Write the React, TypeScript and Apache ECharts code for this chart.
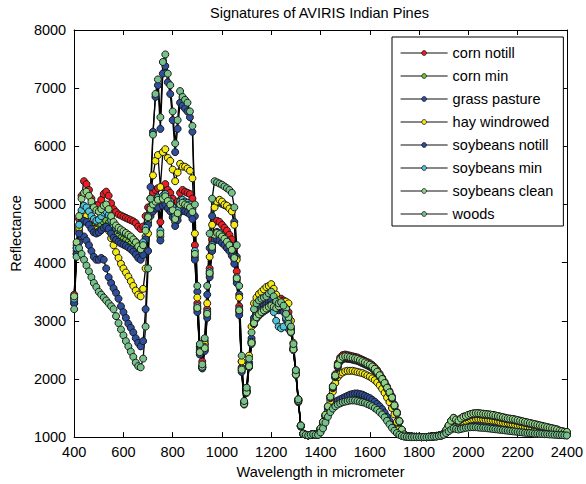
import React, { useEffect, useRef } from "react";
import * as echarts from "echarts";

const FONT = "'Liberation Sans', Arial, Helvetica, sans-serif";

// Wavelength sampling of the bands (nm)
const WL_START = 400;
const WL_STEP = 10;

const xTickValues = [400, 600, 800, 1000, 1200, 1400, 1600, 1800, 2000, 2200, 2400];
const yTickValues = [1000, 2000, 3000, 4000, 5000, 6000, 7000, 8000];

const classNames = [
  "corn notill",
  "corn min",
  "grass pasture",
  "hay windrowed",
  "soybeans notill",
  "soybeans min",
  "soybeans clean",
  "woods",
];

const markerColors = [
  "#ee1c24",
  "#6cc340",
  "#2f4f9f",
  "#f5ea14",
  "#2a4a9a",
  "#4fc3d9",
  "#8fd486",
  "#74c28a",
];

const cornNotill = [
  3450, 4300, 4750, 5150, 5400, 5350, 5250, 5100, 5000,
  4980, 5000, 5080, 5180, 5220, 5150, 5020, 4920, 4870, 4830,
  4810, 4790, 4770, 4750, 4730, 4710, 4680, 4620, 4580, 4620,
  4800, 4950, 5100, 5200, 5250, 5280, 4700, 5300, 5350, 5250,
  5200, 5100, 4950, 5050, 5200, 5250, 5220, 5200, 5180, 5100,
  4300, 3300, 2550, 2300, 2600, 3200, 3900, 4400, 4700, 4720,
  4700, 4650, 4600, 4550, 4480, 4400, 4250, 3850, 3250, 2200,
  1600, 1800, 2250, 2650, 3000, 3100, 3150, 3200, 3230, 3260,
  3300, 3320, 3300, 3280, 3330, 3380, 3350, 3300, 3150, 2880,
  2550, 2100, 1650, 1200, 1060, 1040, 1030, 1040, 1050, 1040,
  1060, 1150, 1260, 1380, 1530, 1700, 1880, 2080, 2270, 2370,
  2410, 2420, 2410, 2400, 2390, 2380, 2370, 2350, 2330, 2310,
  2290, 2270, 2240, 2200, 2150, 2090, 2020, 1950, 1870, 1790,
  1700, 1560, 1430, 1280, 1130, 1050, 1020, 1010, 1010, 1005,
  1005, 1005, 1000, 1000, 1000, 1005, 1010, 1015, 1020, 1025,
  1030, 1060, 1120, 1200, 1280, 1330, 1300, 1280, 1320, 1350,
  1360, 1380, 1395, 1405, 1410, 1410, 1405, 1400, 1395, 1390,
  1385, 1380, 1370, 1360, 1350, 1340, 1330, 1320, 1315, 1310,
  1300, 1290, 1280, 1270, 1260, 1250, 1240, 1230, 1220, 1210,
  1200, 1190, 1180, 1170, 1160, 1150, 1140, 1130, 1110, 1100,
  1090, 1085,
];

const cornMin = [
  3350, 4200, 4550, 4750, 4800, 4780, 4720, 4650, 4600,
  4580, 4600, 4650, 4700, 4720, 4680, 4600, 4520, 4480, 4450,
  4420, 4400, 4380, 4350, 4320, 4280, 4230, 4170, 4130, 4200,
  4450, 4700, 4850, 4950, 5000, 5020, 4450, 5050, 5080, 5000,
  4950, 4850, 4700, 4800, 4950, 4980, 4950, 4930, 4900, 4820,
  4100, 3200, 2450, 2200, 2500, 3100, 3800, 4250, 4450, 4480,
  4460, 4420, 4380, 4330, 4280, 4200, 4050, 3700, 3150, 2150,
  1580, 1780, 2220, 2620, 2970, 3070, 3120, 3160, 3190, 3220,
  3250, 3270, 3250, 3230, 3270, 3320, 3280, 3230, 3080, 2830,
  2520, 2080, 1630, 1190, 1055, 1040, 1030, 1040, 1050, 1040,
  1055, 1140, 1245, 1360, 1500, 1660, 1830, 2020, 2200, 2300,
  2340, 2350, 2345, 2340, 2330, 2320, 2310, 2290, 2270, 2250,
  2230, 2210, 2180, 2140, 2090, 2030, 1970, 1900, 1820, 1740,
  1650, 1520, 1400, 1260, 1120, 1045, 1020, 1010, 1010, 1005,
  1005, 1005, 1000, 1000, 1000, 1005, 1010, 1015, 1020, 1025,
  1030, 1058, 1110, 1185, 1260, 1310, 1285, 1265, 1300, 1330,
  1340, 1360, 1375, 1385, 1390, 1390, 1385, 1380, 1375, 1370,
  1365, 1360, 1350, 1340, 1330, 1320, 1310, 1300, 1295, 1290,
  1280, 1270, 1260, 1250, 1240, 1230, 1220, 1210, 1200, 1190,
  1180, 1170, 1160, 1150, 1140, 1130, 1120, 1110, 1095, 1085,
  1075, 1070,
];

const grassPasture = [
  3300, 4150, 4350, 4450, 4450, 4380, 4300, 4200, 4100,
  4050, 4050, 4080, 4050, 3900, 3750, 3650, 3560, 3480, 3380,
  3250, 3150, 3050, 2950, 2880, 2800, 2700, 2620, 2560, 2650,
  3200, 4200, 5300, 6250, 6850, 7050, 6300, 7250, 7380, 7100,
  6900, 6450, 5900, 6300, 6750, 6700, 6650, 6600, 6500, 6250,
  4800, 3500, 2550, 2200, 2650, 3450, 4250, 4800, 5050, 5050,
  5030, 5010, 4990, 4970, 4950, 4900, 4700, 4100, 3450, 2300,
  1580, 1800, 2280, 2700, 3050, 3150, 3200, 3230, 3260, 3280,
  3330, 3350, 3280, 3200, 3180, 3200, 3150, 3020, 2860, 2850,
  2500, 2080, 1600, 1180, 1055, 1040, 1030, 1035, 1045, 1040,
  1040, 1090, 1170, 1280, 1390, 1480, 1550, 1600, 1630, 1650,
  1670, 1690, 1710, 1730, 1740, 1750, 1750, 1740, 1730, 1710,
  1690, 1670, 1640, 1610, 1570, 1530, 1480, 1420, 1350, 1280,
  1200, 1130, 1080, 1045, 1025, 1010, 1005, 1000, 1000, 1000,
  1000, 1000, 1000, 1000, 1000, 1005, 1005, 1010, 1010, 1020,
  1025, 1045, 1080, 1120, 1160, 1190, 1175, 1165, 1180, 1190,
  1200, 1210, 1215, 1220, 1220, 1215, 1210, 1205, 1200, 1195,
  1190, 1185, 1180, 1175, 1165, 1160, 1150, 1145, 1140, 1130,
  1125, 1120, 1110, 1105, 1100, 1095, 1090, 1085, 1080, 1075,
  1070, 1065, 1060, 1060, 1055, 1050, 1050, 1045, 1040, 1040,
  1035, 1030,
];

const hayWindrowed = [
  3400, 4250, 4600, 4850, 4900, 4800, 4700, 4620, 4580,
  4560, 4540, 4560, 4600, 4620, 4550, 4420, 4300, 4180, 4080,
  3980, 3900, 3830, 3760, 3680, 3600, 3520, 3450, 3420, 3550,
  3900, 4500, 5100, 5500, 5750, 5850, 5300, 5900, 5950, 5800,
  5750, 5600, 5400, 5550, 5700, 5650, 5650, 5620, 5580, 5450,
  4500, 3400, 2500, 2200, 2600, 3300, 4100, 4650, 4950, 5050,
  5080, 5050, 5000, 4980, 4930, 4880, 4650, 4050, 3400, 2300,
  1600, 1850, 2400, 2900, 3300, 3400, 3460, 3500, 3540, 3580,
  3600, 3630, 3550, 3450, 3350, 3310, 3300, 3330, 3300, 3000,
  2620, 2150, 1650, 1200, 1060, 1040, 1030, 1040, 1050, 1040,
  1050, 1120, 1230, 1350, 1480, 1620, 1780, 1930, 2030, 2080,
  2110, 2130, 2140, 2140, 2140, 2130, 2120, 2110, 2100, 2080,
  2060, 2040, 2010, 1980, 1940, 1890, 1830, 1760, 1680, 1600,
  1500, 1390, 1260, 1130, 1050, 1020, 1010, 1005, 1005, 1005,
  1005, 1005, 1000, 1000, 1000, 1005, 1010, 1010, 1015, 1025,
  1030, 1055, 1100, 1160, 1220, 1260, 1240, 1230, 1250, 1270,
  1280, 1295, 1305, 1310, 1315, 1315, 1310, 1305, 1300, 1295,
  1290, 1285, 1280, 1270, 1260, 1250, 1245, 1240, 1230, 1220,
  1210, 1200, 1195, 1185, 1175, 1165, 1160, 1150, 1140, 1130,
  1120, 1115, 1110, 1100, 1095, 1090, 1080, 1075, 1070, 1065,
  1060, 1055,
];

const soybeansNotill = [
  3300, 4150, 4500, 4680, 4720, 4700, 4650, 4580, 4520,
  4500, 4520, 4560, 4600, 4620, 4580, 4500, 4430, 4390, 4360,
  4330, 4310, 4290, 4260, 4230, 4190, 4140, 4080, 4050, 4130,
  4400, 4650, 4800, 4880, 4930, 4950, 4380, 4980, 5000, 4930,
  4880, 4780, 4630, 4730, 4870, 4900, 4880, 4860, 4830, 4750,
  4050, 3150, 2420, 2180, 2480, 3050, 3750, 4200, 4380, 4400,
  4380, 4340, 4300, 4250, 4200, 4120, 3980, 3650, 3100, 2120,
  1560, 1760, 2200, 2600, 2940, 3040, 3090, 3130, 3160, 3190,
  3220, 3240, 3220, 3200, 3240, 3290, 3250, 3200, 3050, 2800,
  2500, 2070, 1620, 1185, 1055, 1040, 1030, 1040, 1050, 1040,
  1055, 1140, 1250, 1370, 1510, 1670, 1840, 2030, 2210, 2310,
  2350, 2360, 2355, 2350, 2340, 2330, 2320, 2300, 2280, 2260,
  2240, 2220, 2190, 2150, 2100, 2040, 1980, 1910, 1830, 1750,
  1660, 1530, 1410, 1265, 1125, 1045, 1020, 1010, 1010, 1005,
  1005, 1005, 1000, 1000, 1000, 1005, 1010, 1015, 1020, 1025,
  1030, 1058, 1115, 1190, 1265, 1315, 1290, 1270, 1305, 1335,
  1345, 1365, 1380, 1390, 1395, 1395, 1390, 1385, 1380, 1375,
  1370, 1365, 1355, 1345, 1335, 1325, 1315, 1305, 1300, 1295,
  1285, 1275, 1265, 1255, 1245, 1235, 1225, 1215, 1205, 1195,
  1185, 1175, 1165, 1155, 1145, 1135, 1125, 1115, 1100, 1090,
  1080, 1075,
];

const soybeansMin = [
  3380, 4250, 4650, 4900, 4980, 4950, 4880, 4800, 4750,
  4720, 4740, 4800, 4860, 4880, 4820, 4730, 4650, 4600, 4570,
  4540, 4520, 4500, 4470, 4440, 4400, 4360, 4310, 4280, 4350,
  4600, 4800, 4950, 5050, 5100, 5120, 4550, 5150, 5180, 5100,
  5050, 4950, 4800, 4900, 5050, 5080, 5050, 5030, 5000, 4920,
  4200, 3250, 2480, 2230, 2550, 3150, 3850, 4300, 4500, 4530,
  4510, 4470, 4430, 4380, 4320, 4240, 4100, 3750, 3200, 2180,
  1590, 1790, 2240, 2640, 2990, 3090, 3130, 3170, 3200, 3230,
  3260, 3280, 3150, 3000, 2900, 2870, 2900, 3050, 3000, 2800,
  2500, 2080, 1630, 1190, 1055, 1040, 1030, 1040, 1050, 1040,
  1058, 1145, 1255, 1375, 1520, 1685, 1860, 2050, 2230, 2330,
  2370, 2380, 2375, 2365, 2355, 2345, 2335, 2315, 2295, 2275,
  2255, 2235, 2205, 2165, 2115, 2055, 1990, 1920, 1840, 1760,
  1670, 1540, 1415, 1270, 1125, 1045, 1020, 1010, 1010, 1005,
  1005, 1005, 1000, 1000, 1000, 1005, 1010, 1015, 1020, 1025,
  1030, 1060, 1118, 1195, 1272, 1322, 1295, 1275, 1312, 1342,
  1352, 1372, 1387, 1397, 1402, 1402, 1397, 1392, 1387, 1382,
  1377, 1372, 1362, 1352, 1342, 1332, 1322, 1312, 1307, 1302,
  1292, 1282, 1272, 1262, 1252, 1242, 1232, 1222, 1212, 1202,
  1192, 1182, 1172, 1162, 1152, 1142, 1132, 1122, 1105, 1095,
  1085, 1080,
];

const soybeansClean = [
  3420, 4350, 4800, 5100, 5200, 5220, 5150, 5050, 4950,
  4900, 4880, 4920, 4980, 5000, 4920, 4800, 4700, 4640, 4600,
  4570, 4540, 4510, 4480, 4450, 4400, 4350, 4280, 4230, 4300,
  4550, 4780, 4920, 5000, 5050, 5080, 4500, 5100, 5140, 5060,
  5000, 4900, 4750, 4850, 5000, 5030, 5000, 4980, 4950, 4870,
  4150, 3220, 2460, 2210, 2530, 3120, 3820, 4270, 4480, 4510,
  4490, 4450, 4410, 4360, 4300, 4220, 4080, 3730, 3180, 2160,
  1570, 1770, 2220, 2620, 2960, 3060, 3110, 3150, 3180, 3210,
  3240, 3260, 3240, 3220, 3250, 3300, 3260, 3210, 3060, 2810,
  2510, 2075, 1625, 1188, 1055, 1040, 1030, 1040, 1050, 1040,
  1060, 1150, 1262, 1385, 1530, 1695, 1870, 2060, 2240, 2340,
  2380, 2390, 2385, 2375, 2365, 2355, 2345, 2325, 2305, 2285,
  2265, 2245, 2215, 2175, 2125, 2065, 2000, 1930, 1850, 1770,
  1680, 1545, 1420, 1275, 1128, 1047, 1020, 1010, 1010, 1005,
  1005, 1005, 1000, 1000, 1000, 1005, 1010, 1015, 1020, 1025,
  1030, 1062, 1122, 1200, 1280, 1330, 1302, 1282, 1320, 1350,
  1362, 1382, 1397, 1407, 1412, 1412, 1407, 1402, 1397, 1392,
  1387, 1382, 1372, 1362, 1352, 1342, 1332, 1322, 1317, 1312,
  1302, 1292, 1282, 1272, 1262, 1252, 1242, 1232, 1222, 1212,
  1202, 1192, 1182, 1172, 1162, 1152, 1142, 1132, 1112, 1102,
  1092, 1088,
];

const woods = [
  3200, 4100, 4250, 4150, 4050, 3950, 3850, 3750, 3650,
  3580, 3500, 3450, 3400, 3350, 3300, 3250, 3200, 3080, 2960,
  2850, 2750, 2650, 2560, 2470, 2380, 2280, 2220, 2200, 2350,
  2900, 3900, 5100, 6200, 6900, 7150, 6500, 7450, 7580, 7250,
  7050, 6600, 6050, 6450, 6950, 6850, 6800, 6750, 6600, 6350,
  5000, 3600, 2600, 2250, 2700, 3600, 4500, 5100, 5400, 5380,
  5360, 5340, 5310, 5280, 5250, 5200, 4950, 4300, 3600, 2400,
  1620, 1850, 2350, 2800, 3200, 3300, 3350, 3380, 3400, 3420,
  3470, 3500, 3420, 3330, 3300, 3320, 3260, 3120, 2950, 2900,
  2600, 2150, 1650, 1200, 1060, 1040, 1030, 1040, 1050, 1040,
  1040, 1080, 1150, 1250, 1350, 1430, 1490, 1530, 1560, 1580,
  1600, 1610, 1620, 1630, 1630, 1630, 1620, 1610, 1600, 1590,
  1570, 1550, 1530, 1500, 1470, 1430, 1390, 1340, 1280, 1220,
  1160, 1110, 1070, 1040, 1020, 1010, 1005, 1000, 1000, 1000,
  1000, 1000, 1000, 1000, 1000, 1005, 1005, 1010, 1010, 1020,
  1025, 1040, 1070, 1100, 1130, 1150, 1140, 1130, 1140, 1150,
  1160, 1165, 1170, 1170, 1170, 1165, 1160, 1160, 1155, 1150,
  1145, 1140, 1135, 1130, 1125, 1120, 1115, 1110, 1105, 1100,
  1095, 1090, 1085, 1080, 1075, 1070, 1070, 1065, 1060, 1060,
  1055, 1055, 1050, 1050, 1045, 1045, 1040, 1040, 1035, 1035,
  1030, 1028,
];

const seriesValues = [
  cornNotill,
  cornMin,
  grassPasture,
  hayWindrowed,
  soybeansNotill,
  soybeansMin,
  soybeansClean,
  woods,
];

const X_MIN = xTickValues[0];
const X_MAX = xTickValues[xTickValues.length - 1];
const X_INT = xTickValues[1] - xTickValues[0];
const Y_MIN = yTickValues[0];
const Y_MAX = yTickValues[yTickValues.length - 1];
const Y_INT = yTickValues[1] - yTickValues[0];

const plain = (v: number) => String(v);

export default function App() {
  const ref = useRef<HTMLDivElement>(null);

  useEffect(() => {
    document.body.style.margin = "0";
    if (!ref.current) return;
    const chart = echarts.init(ref.current, undefined, { renderer: "svg" });

    const axisCommon = {
      type: "value" as const,
      axisLine: { show: true, onZero: false, lineStyle: { color: "#000", width: 1 } },
      axisTick: { show: true, inside: true, length: 5, lineStyle: { color: "#000", width: 1 } },
      splitLine: { show: false },
    };

    const series = seriesValues.map((vals, k) => ({
      name: classNames[k],
      type: "line",
      data: vals.map((v, i) => [WL_START + i * WL_STEP, v]),
      symbol: "circle",
      symbolSize: 7,
      showAllSymbol: true,
      clip: false,
      xAxisIndex: 0,
      yAxisIndex: 0,
      lineStyle: { color: "#000", width: 1.3 },
      itemStyle: { color: markerColors[k], borderColor: "#1a1a1a", borderWidth: 1 },
      emphasis: { disabled: true },
      silent: true,
    }));

    chart.setOption({
      animation: false,
      backgroundColor: "#fff",
      textStyle: { fontFamily: FONT },
      title: {
        text: "Signatures of AVIRIS Indian Pines",
        left: 319.5,
        top: 5,
        textAlign: "center",
        padding: 0,
        textStyle: { fontSize: 14.5, fontWeight: "normal", color: "#000", fontFamily: FONT },
      },
      grid: { left: 70, right: 17, top: 30, bottom: 46, containLabel: false },
      xAxis: [
        {
          ...axisCommon,
          position: "bottom",
          min: X_MIN,
          max: X_MAX,
          interval: X_INT,
          name: "Wavelength in micrometer",
          nameLocation: "middle",
          nameGap: 23,
          nameTextStyle: { fontSize: 14.5, color: "#000", fontFamily: FONT },
          axisLabel: { show: true, color: "#000", fontSize: 14.5, margin: 7, fontFamily: FONT, formatter: plain },
        },
        {
          ...axisCommon,
          position: "top",
          min: X_MIN,
          max: X_MAX,
          interval: X_INT,
          axisLabel: { show: false },
        },
      ],
      yAxis: [
        {
          ...axisCommon,
          position: "left",
          min: Y_MIN,
          max: Y_MAX,
          interval: Y_INT,
          name: "Reflectance",
          nameLocation: "middle",
          nameGap: 46,
          nameRotate: 90,
          nameTextStyle: { fontSize: 14.5, color: "#000", fontFamily: FONT },
          axisLabel: { show: true, color: "#000", fontSize: 14.5, margin: 8, fontFamily: FONT, formatter: plain },
        },
        {
          ...axisCommon,
          position: "right",
          min: Y_MIN,
          max: Y_MAX,
          interval: Y_INT,
          axisLabel: { show: false },
        },
      ],
      legend: {
        data: classNames,
        orient: "vertical",
        left: 392,
        top: 37,
        itemWidth: 47,
        itemHeight: 6,
        itemGap: 8,
        padding: [8.5, 10, 4.5, 8],
        backgroundColor: "#fff",
        borderColor: "#000",
        borderWidth: 1,
        borderRadius: 0,
        selectedMode: false,
        itemStyle: { borderWidth: 0.8, borderColor: "#1a1a1a" },
        lineStyle: { width: 1.2, color: "#111" },
        textStyle: { fontSize: 14.5, color: "#000", fontFamily: FONT },
        z: 10,
      },
      series,
    });

    return () => {
      chart.dispose();
    };
  }, []);

  return <div ref={ref} style={{ width: 586, height: 484 }} />;
}
